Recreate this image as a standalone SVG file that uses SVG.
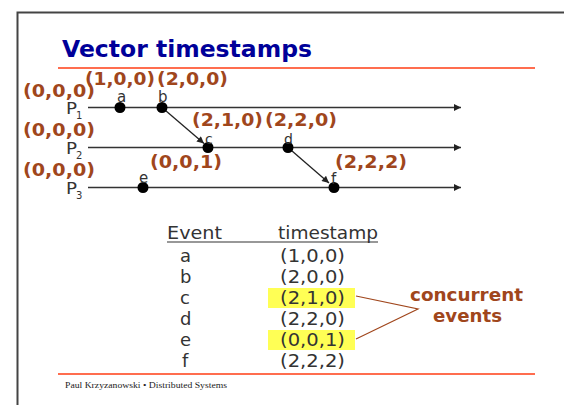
<svg xmlns="http://www.w3.org/2000/svg" width="564" height="405" viewBox="0 0 564 405">
  <defs>
    <marker id="arrow" viewBox="0 0 10 10" refX="10" refY="5" markerWidth="8" markerHeight="7" markerUnits="userSpaceOnUse" orient="auto">
      <path d="M0,0 L10,5 L0,10 Z" fill="#222"/>
    </marker>
    <style>
      .frame { fill: none; stroke: #444; stroke-width: 2; }
      .rule { stroke: #ff3c14; stroke-width: 1.5; }
      .title { font-family: "DejaVu Sans", Verdana, sans-serif; font-weight: bold; font-size: 23px; fill: #000099; }
      .ts { font-family: "DejaVu Sans", Verdana, sans-serif; font-weight: bold; font-size: 17.5px; fill: #a0461c; }
      .lbl { font-family: "DejaVu Sans", Verdana, sans-serif; font-size: 15px; fill: #333; }
      .lbl.sm { font-size: 14px; }
      .sub { font-family: "DejaVu Sans", Verdana, sans-serif; font-size: 10px; fill: #333; }
      .tl { stroke: #333; stroke-width: 1.6; fill: none; }
      .msg { stroke: #222; stroke-width: 1.3; fill: none; }
      .dot { fill: #000; }
      .tab { font-family: "DejaVu Sans", Verdana, sans-serif; font-size: 18px; fill: #333; }
      .hl { fill: #ffff55; }
      .note { font-family: "DejaVu Sans", Verdana, sans-serif; font-weight: bold; font-size: 17.5px; fill: #a0461c; }
      .ptr { stroke: #a0461c; stroke-width: 1.2; fill: none; }
      .foot { font-family: "Liberation Serif", "Times New Roman", serif; font-size: 8px; fill: #222; }
    </style>
  </defs>

  <rect width="564" height="405" fill="#fff"/>
  <!-- slide frame -->
  <path class="frame" d="M565,12.5 H17.5 V406"/>

  <!-- title -->
  <text class="title" x="62" y="57" textLength="250" lengthAdjust="spacingAndGlyphs">Vector timestamps</text>
  <line class="rule" x1="58" y1="68" x2="535" y2="68"/>

  <!-- process timelines -->
  <g id="p1">
    <text class="lbl" x="66" y="114" textLength="11" lengthAdjust="spacingAndGlyphs">P</text>
    <text class="sub" x="76" y="119">1</text>
    <text class="ts" x="23" y="97" textLength="72" lengthAdjust="spacingAndGlyphs">(0,0,0)</text>
  </g>
  <g id="p2">
    <text class="lbl" x="66" y="154" textLength="11" lengthAdjust="spacingAndGlyphs">P</text>
    <text class="sub" x="76" y="159">2</text>
    <text class="ts" x="23" y="136" textLength="72" lengthAdjust="spacingAndGlyphs">(0,0,0)</text>
  </g>
  <g id="p3">
    <text class="lbl" x="66" y="194" textLength="11" lengthAdjust="spacingAndGlyphs">P</text>
    <text class="sub" x="76" y="199">3</text>
    <text class="ts" x="23" y="176" textLength="72" lengthAdjust="spacingAndGlyphs">(0,0,0)</text>
  </g>

  <g id="connectors">
    <line class="tl" x1="88" y1="107.5" x2="461" y2="107.5" marker-end="url(#arrow)"/>
    <line class="tl" x1="88" y1="147.5" x2="461" y2="147.5" marker-end="url(#arrow)"/>
    <line class="tl" x1="88" y1="187.5" x2="461" y2="187.5" marker-end="url(#arrow)"/>
    <line class="msg" x1="162" y1="107.5" x2="204" y2="143.5" marker-end="url(#arrow)"/>
    <line class="msg" x1="288" y1="147.5" x2="329" y2="183" marker-end="url(#arrow)"/>
  </g>

  <!-- events -->
  <g id="event-a">
    <circle class="dot" cx="120" cy="107.5" r="5.5"/>
    <text class="lbl" x="117" y="102">a</text>
    <text class="ts" x="85" y="85" textLength="70" lengthAdjust="spacingAndGlyphs">(1,0,0)</text>
  </g>
  <g id="event-b">
    <circle class="dot" cx="162" cy="107.5" r="5.5"/>
    <text class="lbl" x="158" y="102">b</text>
    <text class="ts" x="157" y="85" textLength="71" lengthAdjust="spacingAndGlyphs">(2,0,0)</text>
  </g>
  <g id="event-c">
    <circle class="dot" cx="208" cy="147.5" r="5.5"/>
    <text class="lbl sm" x="205" y="143.5">c</text>
    <text class="ts" x="192" y="126" textLength="71" lengthAdjust="spacingAndGlyphs">(2,1,0)</text>
  </g>
  <g id="event-d">
    <circle class="dot" cx="288" cy="147.5" r="5.5"/>
    <text class="lbl sm" x="284" y="143.5">d</text>
    <text class="ts" x="265" y="126" textLength="72" lengthAdjust="spacingAndGlyphs">(2,2,0)</text>
  </g>
  <g id="event-e">
    <circle class="dot" cx="143" cy="187.5" r="5.5"/>
    <text class="lbl" x="139" y="183">e</text>
    <text class="ts" x="150" y="168" textLength="72" lengthAdjust="spacingAndGlyphs">(0,0,1)</text>
  </g>
  <g id="event-f">
    <circle class="dot" cx="334" cy="187.5" r="5.5"/>
    <text class="lbl" x="331" y="184">f</text>
    <text class="ts" x="335" y="168" textLength="72" lengthAdjust="spacingAndGlyphs">(2,2,2)</text>
  </g>

  <!-- event / timestamp table -->
  <g id="table">
    <text class="tab" x="167" y="239" textLength="55" lengthAdjust="spacingAndGlyphs">Event</text>
    <text class="tab" x="278" y="239" textLength="100" lengthAdjust="spacingAndGlyphs">timestamp</text>
    <line x1="167" y1="242" x2="378" y2="242" stroke="#333" stroke-width="1.2"/>
    <rect class="hl" x="268" y="288" width="87" height="20"/>
    <rect class="hl" x="268" y="330" width="87" height="20"/>
    <g class="tab">
      <text x="180" y="262">a</text>
      <text x="180" y="283">b</text>
      <text x="180" y="304">c</text>
      <text x="180" y="325">d</text>
      <text x="180" y="346">e</text>
      <text x="182" y="367">f</text>
      <text x="280" y="262" textLength="65" lengthAdjust="spacingAndGlyphs">(1,0,0)</text>
      <text x="280" y="283" textLength="65" lengthAdjust="spacingAndGlyphs">(2,0,0)</text>
      <text x="280" y="304" textLength="65" lengthAdjust="spacingAndGlyphs">(2,1,0)</text>
      <text x="280" y="325" textLength="65" lengthAdjust="spacingAndGlyphs">(2,2,0)</text>
      <text x="280" y="346" textLength="65" lengthAdjust="spacingAndGlyphs">(0,0,1)</text>
      <text x="280" y="367" textLength="65" lengthAdjust="spacingAndGlyphs">(2,2,2)</text>
    </g>
  </g>

  <g id="concurrent-note">
    <text class="note" x="410" y="301" textLength="113" lengthAdjust="spacingAndGlyphs">concurrent</text>
    <text class="note" x="433" y="322" textLength="69" lengthAdjust="spacingAndGlyphs">events</text>
    <polyline class="ptr" points="356,296 418,309 356,339"/>
  </g>

  <!-- footer -->
  <line class="rule" x1="58" y1="374" x2="535" y2="374"/>
  <text class="foot" x="65" y="388" textLength="162" lengthAdjust="spacingAndGlyphs">Paul Krzyzanowski • Distributed Systems</text>
</svg>
